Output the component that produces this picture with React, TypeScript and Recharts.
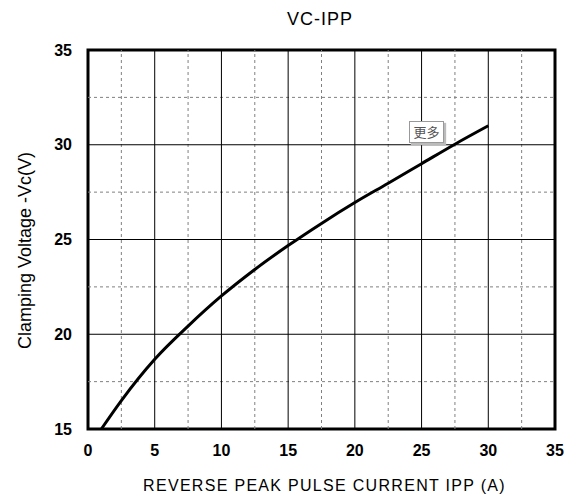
import React from 'react';
import { LineChart, Line, XAxis, YAxis, ReferenceLine, ReferenceArea } from 'recharts';

const currentA = [1, 2.5, 5, 7.5, 10, 12.5, 15, 17.5, 20, 22.5, 25, 27.5, 30];
const clampV = [15, 16.5, 18.68, 20.43, 22.02, 23.42, 24.68, 25.85, 26.95, 27.97, 29.0, 30.03, 31.0];

const xTicks = [0, 5, 10, 15, 20, 25, 30, 35];
const yTicks = [15, 20, 25, 30, 35];
const xMinor = [2.5, 7.5, 12.5, 17.5, 22.5, 27.5, 32.5];
const yMinor = [17.5, 22.5, 27.5, 32.5];
const xMajorInner = [5, 10, 15, 20, 25, 30];
const yMajorInner = [20, 25, 30];

const data = currentA.map((x, i) => ({ x, v: clampV[i] }));

const FONT = '"Liberation Sans", Arial, sans-serif';

export default function App() {
  return (
    <div style={{ position: 'absolute', left: 0, top: 0, width: 577, height: 503, background: '#fff' }}>
      <div
        style={{
          position: 'absolute',
          left: 0,
          width: 640,
          top: 10,
          textAlign: 'center',
          fontFamily: FONT,
          fontSize: 18,
          lineHeight: '18px',
          letterSpacing: 1,
          color: '#000',
        }}
      >
        VC-IPP
      </div>
      <LineChart width={577} height={503} data={data} margin={{ top: 50, right: 22, bottom: 12, left: 0 }}>
        {xMinor.map((v) => (
          <ReferenceLine key={'xm' + v} x={v} stroke="#808080" strokeWidth={1} strokeDasharray="3 3" />
        ))}
        {yMinor.map((v) => (
          <ReferenceLine key={'ym' + v} y={v} stroke="#808080" strokeWidth={1} strokeDasharray="3 3" />
        ))}
        {xMajorInner.map((v) => (
          <ReferenceLine key={'xM' + v} x={v} stroke="#000" strokeWidth={1} />
        ))}
        {yMajorInner.map((v) => (
          <ReferenceLine key={'yM' + v} y={v} stroke="#000" strokeWidth={1} />
        ))}
        <ReferenceArea x1={0} x2={35} y1={15} y2={35} fill="none" fillOpacity={0} stroke="#000" strokeWidth={3} />
        <XAxis
          dataKey="x"
          type="number"
          domain={[0, 35]}
          ticks={xTicks}
          interval={0}
          height={62}
          axisLine={false}
          tickLine={false}
          tickSize={0}
          tickMargin={16}
          tick={{ fill: '#000', fontSize: 16, fontWeight: 'bold', fontFamily: FONT }}
          label={{
            value: 'REVERSE PEAK PULSE CURRENT IPP (A)',
            position: 'insideBottom',
            offset: 0,
            dx: 3,
            style: { fill: '#000', fontSize: 16, fontFamily: FONT, letterSpacing: 1.3 },
          }}
        />
        <YAxis
          type="number"
          domain={[15, 35]}
          ticks={yTicks}
          interval={0}
          width={88}
          axisLine={false}
          tickLine={false}
          tickSize={0}
          tickMargin={16}
          tick={{ fill: '#000', fontSize: 16, fontWeight: 'bold', fontFamily: FONT }}
          label={(props: any) => {
            const vb = props.viewBox || { x: 0, y: 50, width: 88, height: 379 };
            const cx = 25;
            const cy = vb.y + vb.height / 2 + 11;
            return (
              <text
                x={cx}
                y={cy}
                transform={`rotate(-90, ${cx}, ${cy})`}
                textAnchor="middle"
                dominantBaseline="central"
                fill="#000"
                fontSize={18}
                fontFamily={FONT}
              >
                Clamping Voltage -Vc(V)
              </text>
            );
          }}
        />
        <Line
          type="monotone"
          dataKey="v"
          stroke="#000"
          strokeWidth={3}
          dot={false}
          activeDot={false}
          isAnimationActive={false}
        />
      </LineChart>
      <div
        style={{
          position: 'absolute',
          left: 409,
          top: 121,
          width: 33,
          height: 20,
          background: '#fff',
          border: '1px solid #999',
          boxShadow: '2px 2px 1px #bbb',
          fontFamily: '"Noto Sans CJK SC", sans-serif',
          fontSize: 13,
          lineHeight: '20px',
          textAlign: 'center',
          color: '#555',
        }}
      >
        更多
      </div>
    </div>
  );
}
